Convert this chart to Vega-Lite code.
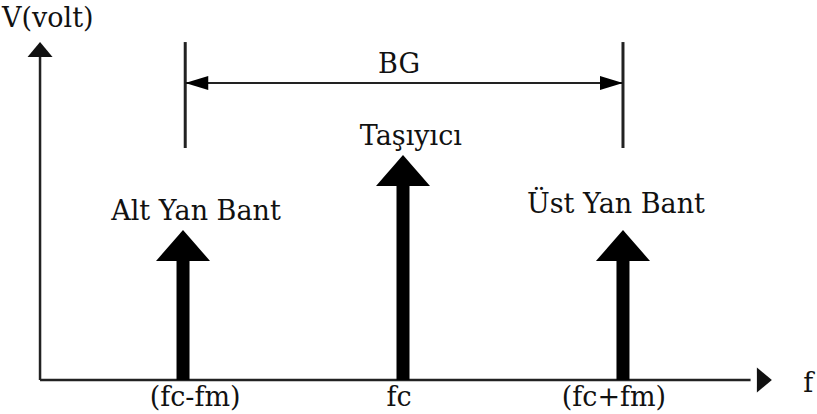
{
  "$schema": "https://vega.github.io/schema/vega-lite/v6.json",
  "width": 817,
  "height": 414,
  "padding": 0,
  "autosize": {"type": "fit", "contains": "padding"},
  "background": "white",
  "config": {"view": {"stroke": null}},
  "datasets": {
    "axes": [
      {"x": -1.65, "y": 0, "x2": -1.65, "y2": 1.44},
      {"x": -1.65, "y": 0, "x2": 1.58, "y2": 0}
    ],
    "spectrum": [
      {"f": -1.0, "label": "(fc-fm)", "base": 0, "amp": 0.667},
      {"f": 0.0, "label": "fc", "base": 0, "amp": 1.0},
      {"f": 1.0, "label": "(fc+fm)", "base": 0, "amp": 0.667}
    ],
    "bgEdges": [
      {"x": -0.99, "y": 1.031, "y2": 1.502},
      {"x": 1.0, "y": 1.031, "y2": 1.502}
    ],
    "bgLine": [{"x": -0.99, "x2": 1.0, "y": 1.32}],
    "centerText": [
      {"x": -0.018, "y": 1.364, "text": "BG"},
      {"x": 0.036, "y": 1.044, "text": "Taşıyıcı"},
      {"x": -0.941, "y": 0.711, "text": "Alt Yan Bant"},
      {"x": 0.968, "y": 0.742, "text": "Üst Yan Bant"},
      {"x": -0.945, "y": -0.115, "text": "(fc-fm)"},
      {"x": -0.018, "y": -0.115, "text": "fc"},
      {"x": 0.959, "y": -0.115, "text": "(fc+fm)"}
    ],
    "leftText": [
      {"x": 1.82, "y": -0.053, "text": "f"},
      {"x": -1.823, "y": 1.569, "text": "V(volt)"}
    ],
    "yHead": [{"x": -1.65, "y": 1.502}],
    "xHead": [{"x": 1.677, "y": 0}],
    "bgLeftHead": [{"x": -0.99, "y": 1.32}],
    "bgRightHead": [{"x": 1.0, "y": 1.32}]
  },
  "layer": [
    {
      "data": {"name": "axes"},
      "mark": {"type": "rule", "color": "#222222", "strokeWidth": 2.5},
      "encoding": {
        "x": {"field": "x", "type": "quantitative", "scale": {"domain": [-1.832, 1.882], "nice": false, "zero": false}, "axis": null},
        "x2": {"field": "x2"},
        "y": {"field": "y", "type": "quantitative", "scale": {"domain": [-0.1511, 1.6889], "nice": false, "zero": false}, "axis": null},
        "y2": {"field": "y2"}
      }
    },
    {
      "data": {"name": "yHead"},
      "mark": {"type": "point", "shape": "M0,0L1,1.2L-1,1.2Z", "size": 625, "filled": true, "color": "#111111", "opacity": 1, "strokeWidth": 0},
      "encoding": {
        "x": {"field": "x", "type": "quantitative"},
        "y": {"field": "y", "type": "quantitative"}
      }
    },
    {
      "data": {"name": "xHead"},
      "mark": {"type": "point", "shape": "M0,0L-1.2,-1L-1.2,1Z", "size": 625, "filled": true, "color": "#111111", "opacity": 1, "strokeWidth": 0},
      "encoding": {
        "x": {"field": "x", "type": "quantitative"},
        "y": {"field": "y", "type": "quantitative"}
      }
    },
    {
      "data": {"name": "spectrum"},
      "mark": {"type": "rule", "color": "#000000", "strokeWidth": 13, "y2Offset": 25},
      "encoding": {
        "x": {"field": "f", "type": "quantitative"},
        "y": {"field": "base", "type": "quantitative"},
        "y2": {"field": "amp"}
      }
    },
    {
      "data": {"name": "spectrum"},
      "mark": {"type": "point", "shape": "M0,0L1,1.15L-1,1.15Z", "size": 2916, "filled": true, "color": "#000000", "opacity": 1, "strokeWidth": 0},
      "encoding": {
        "x": {"field": "f", "type": "quantitative"},
        "y": {"field": "amp", "type": "quantitative"}
      }
    },
    {
      "data": {"name": "bgEdges"},
      "mark": {"type": "rule", "color": "#222222", "strokeWidth": 3},
      "encoding": {
        "x": {"field": "x", "type": "quantitative"},
        "y": {"field": "y", "type": "quantitative"},
        "y2": {"field": "y2"}
      }
    },
    {
      "data": {"name": "bgLine"},
      "mark": {"type": "rule", "color": "#222222", "strokeWidth": 2},
      "encoding": {
        "x": {"field": "x", "type": "quantitative"},
        "x2": {"field": "x2"},
        "y": {"field": "y", "type": "quantitative"}
      }
    },
    {
      "data": {"name": "bgLeftHead"},
      "mark": {"type": "point", "shape": "M0,0L2,-0.6L2,0.6Z", "size": 529, "filled": true, "color": "#000000", "opacity": 1, "strokeWidth": 0},
      "encoding": {
        "x": {"field": "x", "type": "quantitative"},
        "y": {"field": "y", "type": "quantitative"}
      }
    },
    {
      "data": {"name": "bgRightHead"},
      "mark": {"type": "point", "shape": "M0,0L-2,-0.6L-2,0.6Z", "size": 529, "filled": true, "color": "#000000", "opacity": 1, "strokeWidth": 0},
      "encoding": {
        "x": {"field": "x", "type": "quantitative"},
        "y": {"field": "y", "type": "quantitative"}
      }
    },
    {
      "data": {"name": "centerText"},
      "mark": {"type": "text", "font": "DejaVu Serif", "fontSize": 27, "align": "center", "baseline": "alphabetic", "color": "#111111"},
      "encoding": {
        "x": {"field": "x", "type": "quantitative"},
        "y": {"field": "y", "type": "quantitative"},
        "text": {"field": "text"}
      }
    },
    {
      "data": {"name": "leftText"},
      "mark": {"type": "text", "font": "DejaVu Serif", "fontSize": 27, "align": "left", "baseline": "alphabetic", "color": "#111111"},
      "encoding": {
        "x": {"field": "x", "type": "quantitative"},
        "y": {"field": "y", "type": "quantitative"},
        "text": {"field": "text"}
      }
    }
  ]
}
